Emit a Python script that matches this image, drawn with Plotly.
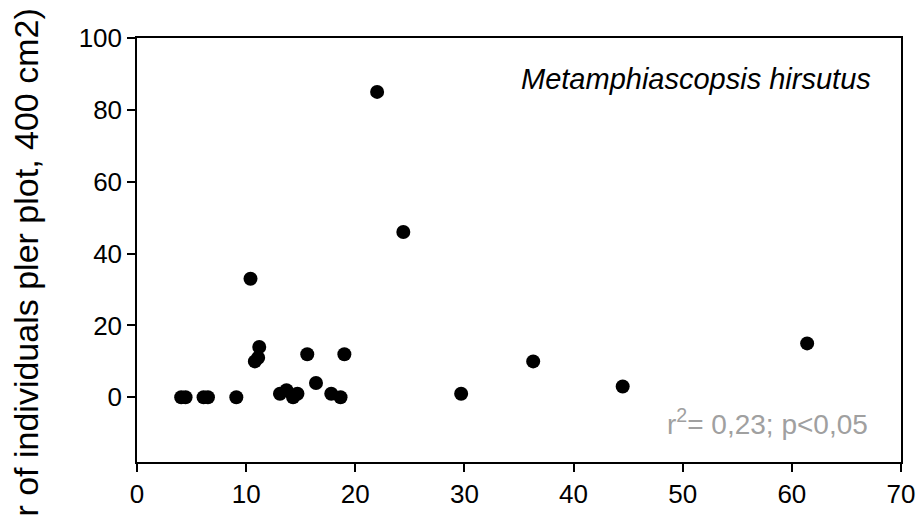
import plotly.graph_objects as go

# Data
x_vals = [4.05, 4.45, 6.1, 6.5, 9.1, 10.4, 10.8, 11.1, 11.2, 13.1, 13.7, 14.3,
          14.7, 15.6, 16.4, 17.8, 18.65, 19.0, 22.0, 24.4, 29.7, 36.3, 44.5, 61.4]
y_vals = [0, 0, 0, 0, 0, 33, 10, 11, 14, 1, 2, 0,
          1, 12, 4, 1, 0, 12, 85, 46, 1, 10, 3, 15]
x_ticks = [0, 10, 20, 30, 40, 50, 60, 70]
y_ticks = [0, 20, 40, 60, 80, 100]

species = "Metamphiascopsis hirsutus"
stat_text = "r<sup>2</sup>= 0,23; p<0,05"
y_title = "Number of individuals pler plot, 400 cm2)"

FONT = "Liberation Sans, Arial, sans-serif"

fig = go.Figure()
fig.add_trace(go.Scatter(
    x=x_vals, y=y_vals, mode="markers",
    marker=dict(size=14, color="black"),
    cliponaxis=False, showlegend=False,
))

axis_common = dict(
    showline=True, linecolor="black", linewidth=1.5, mirror=True,
    ticks="outside", ticklen=8, tickwidth=1.5, tickcolor="black",
    showgrid=False, zeroline=False, automargin=False,
    tickfont=dict(family=FONT, size=26, color="black"),
)

fig.update_xaxes(range=[0, 70], tickvals=x_ticks, **axis_common)
fig.update_yaxes(range=[-18, 100], tickvals=y_ticks, **axis_common)

fig.add_annotation(
    x=0.963, y=0.903, xref="paper", yref="paper",
    text=f"<i>{species}</i>", showarrow=False,
    xanchor="right", yanchor="middle",
    font=dict(family=FONT, size=29, color="black"),
)
fig.add_annotation(
    x=0.96, y=0.095, xref="paper", yref="paper",
    text=stat_text, showarrow=False,
    xanchor="right", yanchor="middle",
    font=dict(family=FONT, size=28, color="#a0a0a0"),
)
fig.add_annotation(
    x=-0.145, y=0.342, xref="paper", yref="paper",
    text=y_title, showarrow=False, textangle=-90,
    xanchor="center", yanchor="middle",
    font=dict(family=FONT, size=34, color="black"),
)

fig.update_layout(
    width=916, height=516,
    margin=dict(l=137, r=15, t=38, b=54),
    paper_bgcolor="white", plot_bgcolor="white",
    font=dict(family=FONT),
)

fig.write_html("out.html")
